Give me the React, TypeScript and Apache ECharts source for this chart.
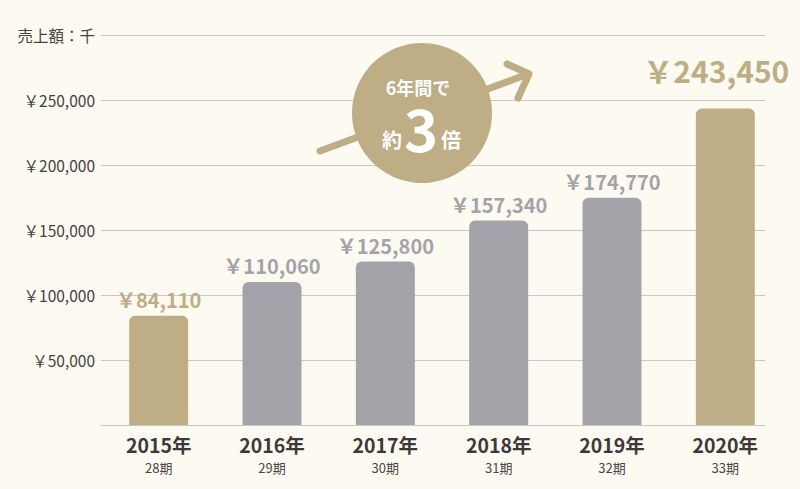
import { useEffect, useRef } from 'react';
import * as echarts from 'echarts';

// Sales per fiscal year (unit: thousand yen).
const years = ['2015年', '2016年', '2017年', '2018年', '2019年', '2020年'];
const periods = ['28期', '29期', '30期', '31期', '32期', '33期'];
const sales = [84110, 110060, 125800, 157340, 174770, 243450];
// Bars drawn in the accent colour.
const accent = [true, false, false, false, false, true];
const yTicks = [0, 50000, 100000, 150000, 200000, 250000, 300000];
const unitLabel = '売上額：千';
const badgeTop = '6年間で';
const badgeLeft = '約';
const badgeNum = '3';
const badgeRight = '倍';

const GOLD = '#bead85';
const GREY = '#a5a3aa';
const FONT = '"Noto Sans CJK JP", "Noto Sans", sans-serif';

const yen = (v: number) => '￥' + v.toLocaleString('en-US');

export default function App() {
  const ref = useRef<HTMLDivElement | null>(null);

  useEffect(() => {
    document.body.style.margin = '0';
    if (!ref.current) return;
    const chart = echarts.init(ref.current, undefined, { renderer: 'svg' });

    const yMax = yTicks[yTicks.length - 1];
    const step = yTicks[1] - yTicks[0];
    const last = sales.length - 1;

    const data = sales.map((v, i) => ({
      value: v,
      itemStyle: { color: accent[i] ? GOLD : GREY },
      label: {
        color: accent[i] ? GOLD : GREY,
        fontSize: i === last ? 30 : 20,
        distance: i === last ? 24 : 6,
        offset: i === last ? [-9, 0] : [0, 0],
      },
    }));

    chart.setOption({
      animation: false,
      backgroundColor: '#fdfaf2',
      textStyle: { fontFamily: FONT },
      grid: [
        // bars
        { left: 102, right: 18, top: 35, bottom: 64 },
        // rules and y labels
        { left: 101, right: 35, top: 35, bottom: 64 },
      ],
      xAxis: [
        {
          type: 'category',
          gridIndex: 0,
          data: years,
          axisLine: { show: false },
          axisTick: { show: false },
          axisLabel: {
            margin: 6,
            formatter: (_v: string, i: number) => `{y|${years[i]}}\n{p|${periods[i]}}`,
            rich: {
              y: { fontSize: 19.5, fontWeight: 'bold', color: '#3d3939', fontFamily: FONT, lineHeight: 27 },
              p: { fontSize: 13, color: '#4a4646', fontFamily: FONT, lineHeight: 19 },
            },
          },
        },
        {
          type: 'category',
          gridIndex: 1,
          data: years,
          axisLine: { show: true, lineStyle: { color: '#c9c6c4', width: 1 } },
          axisTick: { show: false },
          axisLabel: { show: false },
        },
      ],
      yAxis: [
        {
          type: 'value',
          gridIndex: 0,
          min: 0,
          max: yMax,
          interval: step,
          show: false,
          splitLine: { show: false },
        },
        {
          type: 'value',
          gridIndex: 1,
          min: 0,
          max: yMax,
          interval: step,
          axisLine: { show: false },
          axisTick: { show: false },
          splitLine: { lineStyle: { color: '#c9c6c4', width: 1 } },
          axisLabel: {
            margin: 6,
            fontSize: 15.5,
            color: '#474343',
            fontFamily: FONT,
            formatter: (v: number) => (v === yMax ? unitLabel : v === 0 ? '' : yen(v)),
          },
        },
      ],
      series: [
        {
          type: 'bar',
          xAxisIndex: 0,
          yAxisIndex: 0,
          barWidth: 59,
          itemStyle: { borderRadius: [6, 6, 0, 0] },
          label: {
            show: true,
            position: 'top',
            fontWeight: 'bold',
            fontFamily: FONT,
            formatter: (p: any) => yen(p.value),
          },
          data,
          z: 3,
        },
      ],
      graphic: [
        {
          type: 'line',
          z: 10,
          shape: { x1: 320, y1: 151, x2: 528, y2: 74 },
          style: { stroke: GOLD, lineWidth: 7, lineCap: 'round' },
        },
        {
          type: 'polyline',
          z: 10,
          shape: { points: [[507, 64], [529, 74], [518, 98]] },
          style: { stroke: GOLD, fill: null, lineWidth: 7, lineCap: 'round', lineJoin: 'round' },
        },
        {
          type: 'circle',
          z: 11,
          shape: { cx: 422, cy: 113, r: 70 },
          style: { fill: GOLD },
        },
        {
          type: 'text',
          z: 12,
          style: {
            text: badgeTop, x: 418, y: 87, fill: '#fff',
            fontSize: 18, fontWeight: 'bold', fontFamily: FONT,
            align: 'center', verticalAlign: 'middle', lineHeight: 18,
          },
        },
        {
          type: 'text',
          z: 12,
          style: {
            text: badgeLeft, x: 392, y: 139, fill: '#fff',
            fontSize: 20, fontWeight: 'bold', fontFamily: FONT,
            align: 'center', verticalAlign: 'middle', lineHeight: 22,
          },
        },
        {
          type: 'text',
          z: 12,
          style: {
            text: badgeNum, x: 421, y: 127, fill: '#fff',
            fontSize: 58, fontWeight: 'bold', fontFamily: FONT,
            align: 'center', verticalAlign: 'middle', lineHeight: 44,
          },
        },
        {
          type: 'text',
          z: 12,
          style: {
            text: badgeRight, x: 451, y: 139, fill: '#fff',
            fontSize: 20, fontWeight: 'bold', fontFamily: FONT,
            align: 'center', verticalAlign: 'middle', lineHeight: 22,
          },
        },
      ],
    });

    return () => chart.dispose();
  }, []);

  return <div ref={ref} style={{ width: 800, height: 489 }} />;
}
